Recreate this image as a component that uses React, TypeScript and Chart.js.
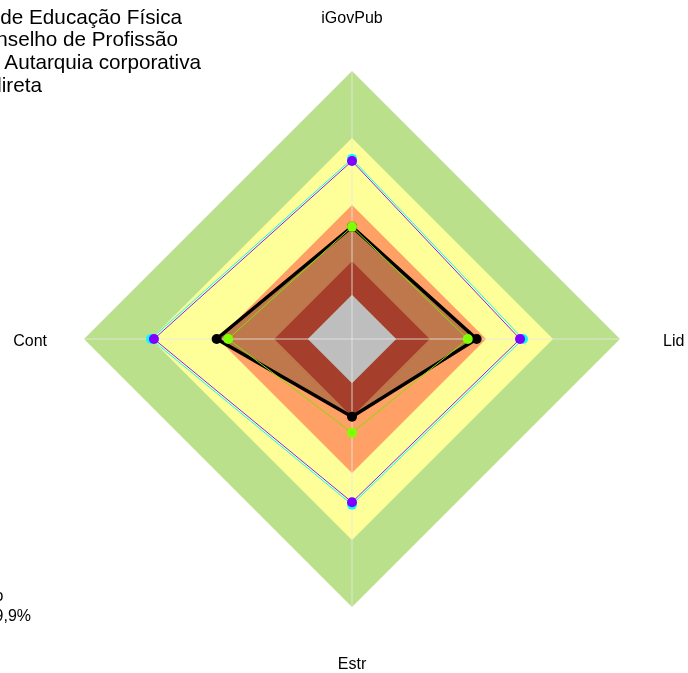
import React, { useEffect, useRef } from "react";
import { Chart, registerables } from "chart.js";

Chart.register(...registerables);

// ---- data ----
const axisLabels = ["iGovPub", "Lid", "Estr", "Cont"];
// background band limits (outer radius of each band), 0-100 scale
const bandLevels = [100, 75, 50, 29, 16.5];
const bandColors = ["#BAE08C", "#FFFF99", "#FFA066", "#A53F2B", "#BEBEBE"];
// series
const seriesBlack = [41.9, 46.5, 29.0, 50.5];
const seriesGreen = [41.9, 43.2, 35.0, 46.2];
const seriesCyan = [67.2, 63.8, 61.8, 75.0];
const seriesPurple = [66.4, 62.7, 60.9, 73.9];
// text
const titleLines = ["de Educação Física", "Conselho de Profissão", "Autarquia corporativa", "Indireta"];
const footLines = ["o", "9,9%"];

const FONT = "'Liberation Sans', Arial, sans-serif";

const band = (level: number, color: string) => ({
  label: "band" + level,
  data: axisLabels.map(() => level),
  backgroundColor: color,
  borderColor: "transparent",
  borderWidth: 0,
  pointRadius: 0,
  fill: "origin",
});

const overlayPlugin = {
  id: "overlay",
  afterDatasetDraw(chart: any, args: any) {
    // angle lines drawn right above the innermost band
    if (args.index !== 4) return;
    const scale = chart.scales.r;
    const ctx = chart.ctx;
    ctx.save();
    ctx.strokeStyle = "rgba(232,232,232,0.55)";
    ctx.lineWidth = 1.5;
    for (let i = 0; i < axisLabels.length; i++) {
      const p = scale.getPointPositionForValue(i, scale.max);
      ctx.beginPath();
      ctx.moveTo(scale.xCenter, scale.yCenter);
      ctx.lineTo(p.x, p.y);
      ctx.stroke();
    }
    ctx.restore();
  },
  afterDraw(chart: any) {
    const scale = chart.scales.r;
    const ctx = chart.ctx;
    ctx.save();
    ctx.fillStyle = "#000";
    ctx.textBaseline = "alphabetic";
    // axis labels
    ctx.font = "16px " + FONT;
    const offs = [
      { dx: 0, dy: -48, align: "center" },
      { dx: 43, dy: 7, align: "left" },
      { dx: 0, dy: 62, align: "center" },
      { dx: -37, dy: 7, align: "right" },
    ];
    axisLabels.forEach((lab, i) => {
      const p = scale.getPointPositionForValue(i, scale.max);
      ctx.textAlign = offs[i].align;
      ctx.fillText(lab, p.x + offs[i].dx, p.y + offs[i].dy);
    });
    // title block (cut at left edge)
    ctx.font = "20.7px " + FONT;
    ctx.textAlign = "right";
    const titleRight = [182, 178, 201, 42];
    titleLines.forEach((t, i) => {
      ctx.fillText(t, titleRight[i], 23.5 + i * 22.7);
    });
    // bottom-left block
    ctx.font = "16px " + FONT;
    const footRight = [3.5, 31];
    footLines.forEach((t, i) => {
      ctx.fillText(t, footRight[i], 601 + i * 20);
    });
    ctx.restore();
  },
};

export default function App() {
  const ref = useRef<HTMLCanvasElement | null>(null);
  useEffect(() => {
    if (!ref.current) return;
    const datasets: any[] = [
      {
        label: "purple",
        data: seriesPurple,
        borderColor: "#8A1EFF",
        backgroundColor: "#7F00FF",
        borderWidth: 1,
        pointRadius: 5,
        pointBackgroundColor: "#7F00FF",
        pointBorderWidth: 0,
        fill: false,
      },
      {
        label: "cyan",
        data: seriesCyan,
        borderColor: "#00FFFF",
        backgroundColor: "#00FFFF",
        borderWidth: 1,
        pointRadius: 5,
        pointBackgroundColor: "#00FFFF",
        pointBorderWidth: 0,
        fill: false,
      },
      {
        label: "green",
        data: seriesGreen,
        borderColor: "#80E000",
        backgroundColor: "#7FFF00",
        borderWidth: 1,
        pointRadius: 5,
        pointBackgroundColor: "#7FFF00",
        pointBorderWidth: 0,
        fill: false,
      },
      {
        label: "black",
        data: seriesBlack,
        borderColor: "#000",
        backgroundColor: "#000",
        borderWidth: 3.5,
        pointRadius: 5,
        pointBackgroundColor: "#000",
        pointBorderWidth: 0,
        fill: false,
      },
      band(bandLevels[4], bandColors[4]),
      band(bandLevels[3], bandColors[3]),
      {
        label: "blackFill",
        data: seriesBlack,
        backgroundColor: "rgba(0,0,0,0.25)",
        borderColor: "transparent",
        borderWidth: 0,
        pointRadius: 0,
        fill: "origin",
      },
      band(bandLevels[2], bandColors[2]),
      band(bandLevels[1], bandColors[1]),
      band(bandLevels[0], bandColors[0]),
    ];
    const chart = new Chart(ref.current, {
      type: "radar",
      data: { labels: axisLabels, datasets },
      options: {
        responsive: false,
        animation: false,
        events: [],
        layout: { padding: { left: 84, right: 68, top: 71, bottom: 66 } },
        elements: { line: { tension: 0 } },
        plugins: { legend: { display: false }, tooltip: { enabled: false } },
        scales: {
          r: {
            min: 0,
            max: 100,
            ticks: { display: false },
            grid: { display: false },
            angleLines: { display: false },
            pointLabels: { display: false },
          },
        },
      },
      plugins: [overlayPlugin],
    } as any);
    return () => chart.destroy();
  }, []);
  return (
    <div style={{ position: "absolute", left: 0, top: 0, width: 688, height: 673, background: "#fff" }}>
      <canvas ref={ref} width={688} height={673} style={{ display: "block" }} />
    </div>
  );
}
